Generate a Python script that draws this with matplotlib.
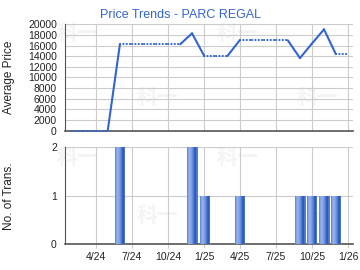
import datetime as dt
import matplotlib
matplotlib.use("Agg")
import matplotlib.pyplot as plt
from matplotlib.colors import LinearSegmentedColormap
import numpy as np

plt.rcParams['font.family'] = ['Liberation Sans', 'Noto Sans CJK SC', 'DejaVu Sans']

# monthly data, Feb 2024 .. Jan 2026
months = ["2024-02", "2024-03", "2024-04", "2024-05", "2024-06", "2024-07",
          "2024-08", "2024-09", "2024-10", "2024-11", "2024-12", "2025-01",
          "2025-02", "2025-03", "2025-04", "2025-05", "2025-06", "2025-07",
          "2025-08", "2025-09", "2025-10", "2025-11", "2025-12", "2026-01"]
avg_price = [0, 0, 0, 0, 16250, 16250,
             16250, 16250, 16250, 16250, 18300, 14050,
             14050, 14050, 17000, 17000, 17000, 17000,
             17000, 13650, 16350, 19050, 14400, 14400]
n_trans = [0, 0, 0, 0, 2, 0,
           0, 0, 0, 0, 2, 1,
           0, 0, 1, 0, 0, 0,
           0, 1, 1, 1, 1, 0]

tick_months = ["2024-04", "2024-07", "2024-10", "2025-01",
               "2025-04", "2025-07", "2025-10", "2026-01"]
tick_labels = ["4/24", "7/24", "10/24", "1/25", "4/25", "7/25", "10/25", "1/26"]

def to_date(s):
    y, m = s.split("-")
    return dt.date(int(y), int(m), 1)

x = [to_date(m) for m in months]
xticks = [to_date(m) for m in tick_months]
xlim = (dt.date(2024, 1, 14), dt.date(2026, 1, 14))

blue = "#3366cc"
grid_c = "#cccccc"
spine_c = "#555555"
txt_c = "#222222"

fig = plt.figure(figsize=(3.6, 2.7), dpi=100)
ax1 = fig.add_axes([0.181, 0.516, 0.800, 0.394])
ax2 = fig.add_axes([0.181, 0.096, 0.800, 0.358])

for ax in (ax1, ax2):
    ax.set_facecolor("none")
    for s in ("top", "right"):
        ax.spines[s].set_visible(False)
    ax.spines["left"].set_color(spine_c)
    ax.spines["bottom"].set_color(spine_c)
    ax.spines["bottom"].set_linewidth(1.2)
    ax.set_xlim(*xlim)
    ax.set_xticks(xticks)
    ax.grid(True, color=grid_c, linewidth=0.8)
    ax.set_axisbelow(True)
    ax.tick_params(axis="y", length=0, labelsize=7.5, pad=6, colors=txt_c)
    ax.tick_params(axis="x", length=3, color=grid_c, labelsize=7.5, pad=3, colors=txt_c)

# faint watermarks behind everything
for (px, py) in [(77, 33), (237, 33), (157, 97), (317, 97),
                 (77, 157), (237, 157), (157, 216), (317, 216)]:
    fig.text(px / 360, 1 - py / 270, "科一", fontsize=15, color="#f4f4f4",
             ha="center", va="center", fontweight="bold",
             family=["Noto Sans CJK SC"], zorder=-1)

fig.text(0.5, 1 - 15 / 270, "Price Trends - PARC REGAL", fontsize=9,
         color=blue, ha="center", va="center")

# price line: solid into a month with transactions, dotted otherwise
for i in range(len(x) - 1):
    ls = "-" if n_trans[i + 1] > 0 else (0, (0.1, 1.5))
    ax1.plot(x[i:i + 2], avg_price[i:i + 2], color=blue, linewidth=1.5,
             linestyle=ls, solid_capstyle="round", dash_capstyle="round",
             zorder=3, clip_on=False)

ax1.set_ylim(0, 20000)
ax1.set_yticks(range(0, 20001, 2000))
ax1.set_xticklabels([])
ax1.tick_params(axis="x", length=0)
ax1.set_ylabel("Average Price", fontsize=8.5, color=txt_c)
ax1.yaxis.set_label_coords(-0.174, 0.5)

# transaction bars with horizontal gradient
bx = [xi for xi, n in zip(x, n_trans) if n > 0]
bh = [n for n in n_trans if n > 0]
bars = ax2.bar(bx, bh, width=23, color="#4a74cc", edgecolor="#3a66c4", linewidth=0.5, zorder=3)
cmap = LinearSegmentedColormap.from_list("bar", ["#2150b8", "#5a82d6", "#9db7ec"])
grad = np.array([[0.6, 0.85, 0.95, 0.85, 0.7, 0.5, 0.25, 0.05, 0.35]])
for b in bars:
    x0, y0 = b.get_x(), b.get_y()
    im = ax2.imshow(grad, cmap=cmap, vmin=0, vmax=1, aspect="auto",
                    extent=(x0, x0 + b.get_width(), y0, y0 + b.get_height()),
                    zorder=3.5, interpolation="bilinear")
    im.set_clip_path(b)
ax2.set_xlim(*xlim)
ax2.set_ylim(0, 2)
ax2.set_yticks([0, 1, 2])
ax2.set_xticklabels(tick_labels)
ax2.set_ylabel("No. of Trans.", fontsize=8.5, color=txt_c)
ax2.yaxis.set_label_coords(-0.174, 0.5)

fig.savefig("out.png", dpi=100)
